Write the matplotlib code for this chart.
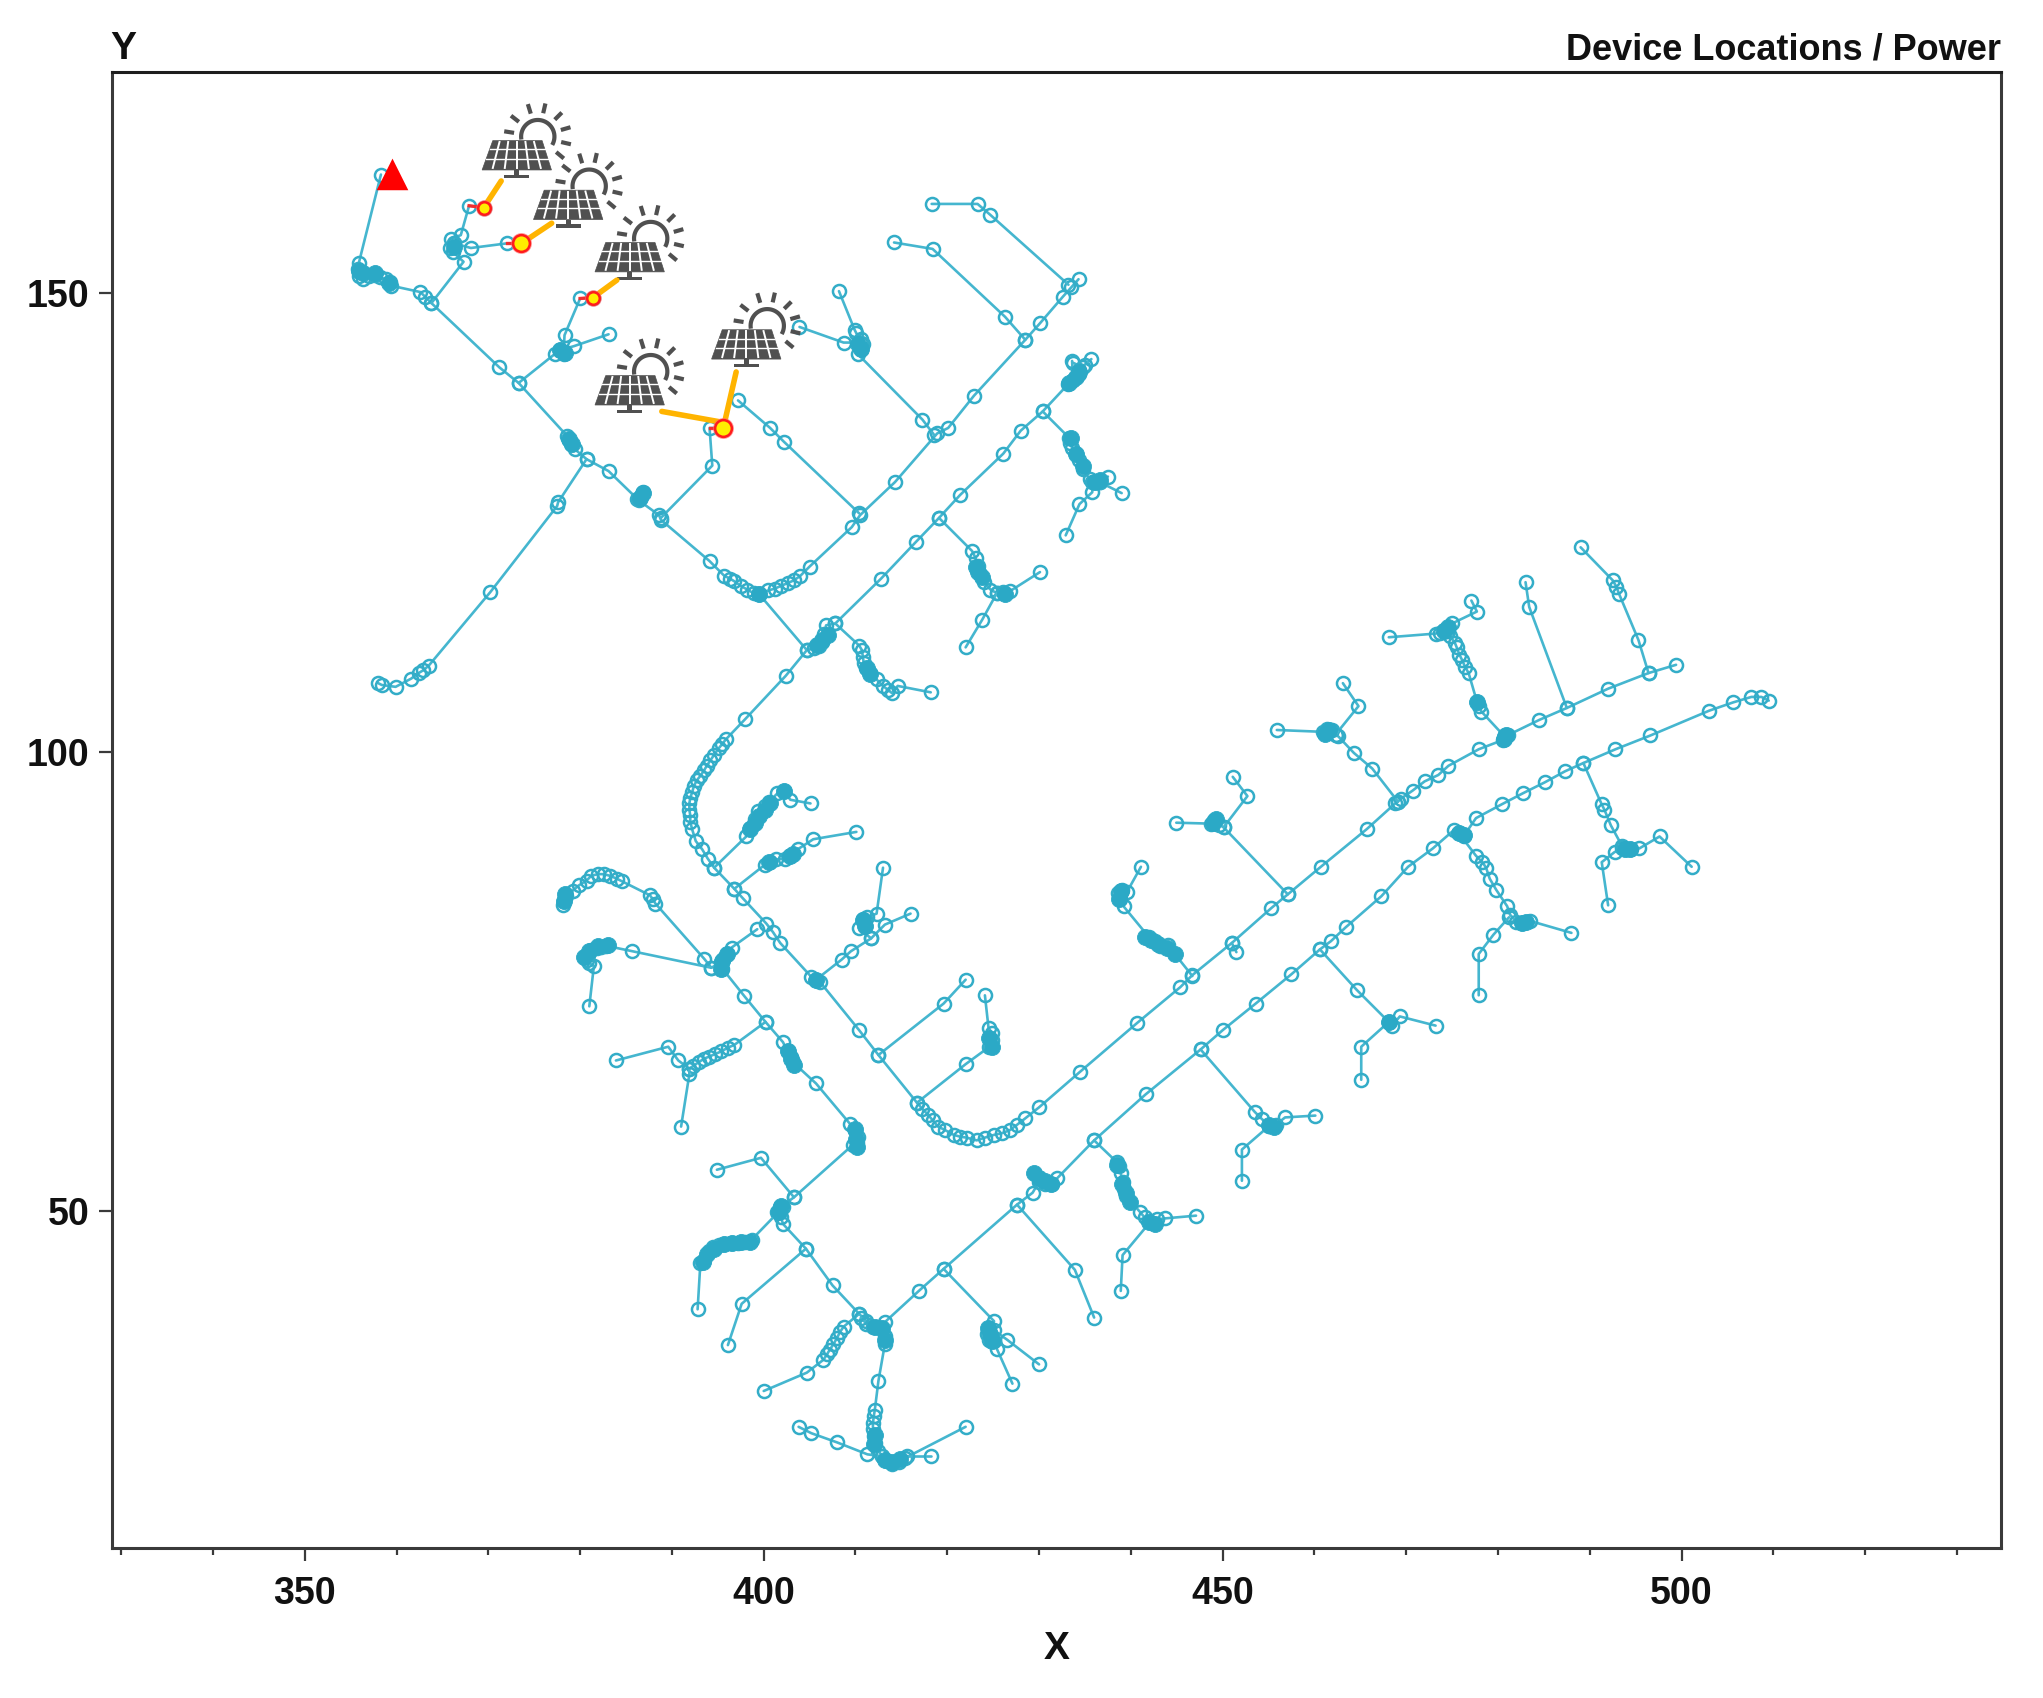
import numpy as np
import matplotlib
matplotlib.use("Agg")
import matplotlib.pyplot as plt
from matplotlib.patches import Polygon

XTICKS = [350, 400, 450, 500]
XMINOR = [330, 340, 360, 370, 380, 390, 410, 420, 430, 440, 460, 470, 480, 490, 510, 520, 530]
YTICKS = [50, 100, 150]

trunk_north = [(358.3,162.9),(355.9,153.3),(355.8,152.6),(355.9,151.9),(356.4,151.5),(357.0,151.9),(357.6,152.0),(358.2,151.7),(358.8,151.5),(359.3,151.2),(359.4,150.8),
 (362.6,150.1),(363.1,149.6),(363.8,148.9),(371.2,141.9),(373.3,140.2),(378.6,134.4),(378.8,134.0),(379.0,133.6),(379.4,133.0),(380.7,131.9),(383.1,130.6),
 (386.2,127.6),(386.6,127.9),(386.8,128.3),(386.4,127.4),(388.6,125.8),(388.8,125.3),(394.1,120.8),(395.7,119.2),(396.3,118.9),(396.8,118.6),(397.5,118.1),(398.2,117.7),(398.9,117.3),(399.5,117.2),
 (400.5,117.6),(401.2,117.8),(401.9,118.1),(402.6,118.4),(403.3,118.7),(404.0,119.2),(405.0,120.2),(409.6,124.5),(410.5,125.8),(414.3,129.4),(418.9,134.7),(420.1,135.3),(422.9,138.8),(428.5,144.9),(430.1,146.7),(432.6,149.6),(433.5,150.6),(434.3,151.5)]
link_arc_to_trunk = [(399.5,117.2),(404.7,111.1)]
trunk_mid = [(433.7,142.4),(434.8,141.9),(434.3,141.2),(433.7,140.5),(433.2,140.1),(430.4,137.1),(428.0,135.0),(426.1,132.5),(421.4,128.0),(419.1,125.5),(416.6,122.9),(412.8,118.9),(407.8,114.0),(406.8,113.8),
 (406.6,112.9),(406.4,112.0),(406.0,111.5),(405.5,111.3),(404.7,111.1),(402.4,108.3),(398.0,103.6),(395.9,101.4),(395.5,100.9),(395.1,100.4),(394.6,99.7),(394.2,99.1),(393.8,98.5),(393.5,98.0),(393.1,97.4),(392.7,96.9),(392.4,96.3),(392.2,95.6),(392.0,95.0),(391.9,94.4),(391.9,93.7),(392.0,93.1),(392.0,92.4),(392.2,91.6),(392.6,90.3),(393.3,89.4),(393.9,88.4),(394.6,87.4),(396.8,85.1),(397.7,84.1),(400.3,81.3),(401.0,80.4),(401.8,79.2),(405.2,75.5),(405.7,75.2),(406.1,75.0),
 (410.4,69.7),(412.5,67.0),(416.7,61.8),(417.3,61.1),(417.9,60.5),(418.4,59.9),(419.0,59.2),(419.8,58.8),(420.7,58.3),(421.4,58.1),(422.1,58.0),(423.2,57.7),(424.1,58.0),(425.1,58.3),(426.0,58.5),(426.8,58.8),(427.6,59.4),(428.5,60.1),(430.0,61.3),(434.5,65.2),(440.7,70.5),(445.4,74.4),(446.7,75.7),(451.0,79.2),(455.3,83.0),(457.1,84.5),(460.7,87.5),(465.7,91.6),(468.8,94.4),(469.1,94.6),(469.4,94.9),(470.7,95.8),(472.0,96.8),(473.5,97.5),(474.6,98.5),(477.9,100.3),(480.5,101.3),(480.8,101.6),(481.1,101.9),(481.0,101.8),(484.5,103.5),(487.5,104.8),(492.0,106.9),(496.4,108.6),(499.4,109.5)]
trunk_south = [(399.3,80.7),(396.5,78.7),(396.0,78.0),(395.6,77.5),(395.3,77.0),(395.5,76.4),(397.9,73.4),(400.2,70.6),(402.1,68.4),(402.6,67.4),(403.0,66.8),(403.2,66.2),(405.7,63.9),(409.4,59.5),(409.9,58.8),(410.3,58.1),(410.2,57.4),(409.7,57.2),(403.3,51.5),(401.8,50.4),(401.5,49.9),(401.9,49.3),(402.1,48.6),(404.6,45.9),(407.5,41.9),(410.4,38.8),(411.2,38.0),(413.2,37.9),(416.9,41.3),(419.6,43.7),(427.6,50.7),(429.3,52.0),(430.0,53.2),(430.7,53.0),(431.4,52.9),(432.0,53.6),(436.0,57.7),(441.6,62.7),(447.6,67.6),(450.0,69.7),(453.6,72.6),(457.5,75.8),(460.6,78.5),(461.8,79.4),(463.4,80.9),(467.3,84.3),(470.2,87.5),(472.9,89.5),(475.2,91.5),(475.7,91.2),(476.3,90.9),(477.6,92.8),(480.4,94.3),(482.7,95.5),(485.1,96.7),(487.3,97.9),(489.3,98.8),(492.8,100.3),(496.6,101.8),(503.0,104.5),(505.6,105.4),(507.6,106.0),(508.7,106.0),(509.5,105.6)]

north_branches = [
 [(363.8,148.9),(367.3,153.4),(366.1,154.5),(365.8,154.9),(366.3,155.4),(365.9,155.9),(367.0,156.3),(367.9,159.5),(369.5,159.3)],
 [(366.3,155.4),(368.1,154.9),(372.0,155.4),(373.6,155.4)],
 [(373.3,140.2),(377.3,143.4),(377.8,143.8),(378.2,143.4),(378.3,145.4),(380.0,149.4),(381.4,149.5)],
 [(377.8,143.8),(379.3,144.2),(383.1,145.5)],
 [(388.8,125.5),(394.4,131.2),(394.1,135.3),(395.5,135.3)],
 [(380.7,131.9),(377.6,127.2),(377.5,126.8),(370.2,117.4),(363.5,109.4),(362.9,108.9),(362.4,108.6),(361.6,108.0),(359.9,107.1),(358.4,107.3),(358.0,107.5)],
 [(410.4,126.0),(402.2,133.8),(400.7,135.3),(397.2,138.3)],
 [(418.6,134.5),(417.3,136.2),(410.3,143.3),(410.6,143.9),(410.8,144.4),(410.6,145.0),(410.1,145.6),(409.9,146.0),(408.2,150.2)],
 [(410.6,144.6),(408.7,144.6),(403.9,146.3)],
 [(428.5,144.9),(426.3,147.4),(418.4,154.8),(414.2,155.5)],
 [(433.2,150.9),(424.7,158.5),(423.3,159.7),(418.3,159.7)],
 [(433.7,140.5),(433.6,142.6)],
 [(434.3,141.6),(435.0,142.2),(435.7,142.8)],
 [(430.4,137.1),(433.3,134.2),(433.4,133.7),(433.6,133.1),(434.0,132.5),(434.3,131.8),(434.8,130.8),(435.5,129.7),(436.0,129.4),(436.6,129.4),(437.5,130.0)],
 [(436.6,129.4),(439.0,128.2)],
 [(435.8,129.4),(435.8,128.3),(434.4,127.0),(432.9,123.6)],
 [(419.1,125.5),(422.7,121.9),(423.1,121.1),(423.3,120.3),(423.6,119.4),(424.0,118.5),(424.7,117.7),(425.4,117.3),(426.1,117.4),(426.8,117.5),(430.1,119.6)],
 [(425.4,117.3),(423.8,114.4),(422.0,111.4)],
 [(407.8,114.0),(410.4,111.6),(410.7,111.1),(410.8,110.4),(410.9,109.7),(411.2,109.2),(411.6,108.6),(412.3,107.9),(413.0,107.2),(413.5,106.8),(414.0,106.4),(414.6,107.2),(418.2,106.5)],
]
mid_branches = [
 [(394.6,87.4),(398.1,90.8),(398.5,91.7),(399.0,92.7),(399.4,93.6),(400.1,94.1),(400.6,94.6),(401.5,95.5),(402.2,95.8),(402.9,94.8),(405.1,94.4)],
 [(396.8,85.1),(400.1,87.7),(400.7,88.0),(401.3,88.3),(402.3,88.4),(402.9,88.7),(403.7,89.4),(405.4,90.5),(410.1,91.3)],
 [(405.7,75.2),(408.5,77.4),(409.5,78.3),(411.7,79.7),(410.4,80.8),(411.0,81.1),(410.8,81.8),(411.3,82.0),(412.3,82.4),(413.0,87.4)],
 [(411.7,79.7),(413.2,81.2),(416.0,82.4)],
 [(412.5,67.0),(419.6,72.6),(422.0,75.2)],
 [(416.7,61.8),(422.0,66.0),(424.6,67.9),(424.9,68.6),(424.9,69.4),(424.5,69.9),(424.1,73.5)],
 [(446.7,75.6),(444.0,79.0),(443.2,78.9),(442.6,79.4),(442.0,79.8),(439.2,83.2),(438.8,84.0),(438.6,84.6),(439.0,85.0),(439.6,84.8),(441.1,87.5)],
 [(457.1,84.5),(450.1,91.8),(449.6,92.1),(449.1,92.6),(448.7,92.2),(444.95,92.3)],
 [(450.1,91.8),(452.7,95.2),(451.1,97.3)],
 [(469.1,94.6),(466.3,98.2),(464.3,99.9),(462.6,101.7),(462.3,101.9),(461.9,102.4),(461.4,102.5),(460.9,102.2),(455.9,102.4)],
 [(462.3,101.9),(464.8,105.0),(463.1,107.5)],
 [(480.8,101.6),(478.2,104.4),(477.9,105.0),(477.7,105.5),(476.8,108.6),(476.4,109.3),(476.1,110.0),(475.8,110.6),(475.5,111.4),(475.3,111.9),(474.8,112.6),(474.1,113.3),(473.7,113.0),(473.2,112.9),(468.1,112.5)],
 [(474.6,113.2),(475.0,114.0),(477.7,115.3),(477.1,116.5)],
 [(487.5,104.8),(483.4,115.8),(483.0,118.5)],
 [(496.4,108.6),(495.3,112.2),(493.2,117.2),(492.9,118.0),(492.5,118.7),(489.0,122.3)],
 [(451.0,79.2),(451.5,78.2)],
]
south_branches = [
 [(395.5,77.2),(394.3,76.5),(393.5,77.5),(388.2,83.5),(387.9,84.0),(387.6,84.4),(384.6,85.9),(384.0,86.2),(383.3,86.5),(382.6,86.7),(381.9,86.7),(381.2,86.5),(380.7,86.0),(379.9,85.5),(379.2,84.9),(378.5,84.3),(378.2,83.8),(378.1,83.3)],
 [(394.3,76.5),(385.7,78.3),(382.8,78.9),(382.3,78.8),(381.8,78.7),(381.2,78.4),(380.9,77.9),(380.7,77.4),(381.0,77.0),(381.5,76.7),(381.0,72.3)],
 [(400.2,70.6),(396.8,68.1),(396.1,67.8),(395.4,67.4),(394.7,67.1),(394.0,66.8),(393.5,66.6),(392.9,66.2),(392.3,65.8),(391.9,65.5),(390.7,66.4),(389.6,67.9),(383.9,66.4)],
 [(391.9,65.5),(391.9,64.9),(391.0,59.2)],
 [(403.3,51.5),(399.7,55.8),(394.9,54.5)],
 [(402.1,50.4),(398.7,46.9),(398.0,46.6),(397.2,46.5),(396.4,46.5),(395.7,46.4),(395.1,46.3),(394.5,46.1),(394.0,45.6),(393.5,44.7),(393.1,44.3),(392.8,39.3)],
 [(404.6,45.9),(397.6,39.9),(396.1,35.4)],
 [(410.4,38.8),(408.7,37.4),(408.3,36.8),(408.0,36.2),(407.6,35.5),(407.2,34.9),(406.9,34.4),(406.5,33.8),(404.7,32.4),(400.0,30.4)],
 [(410.6,38.4),(411.2,37.7),(411.9,37.4),(412.9,37.2),(413.2,36.4),(413.2,35.5),(412.5,31.5),(412.1,28.3),(412.0,27.7),(411.9,26.9),(411.9,26.3),(412.0,25.5),(412.1,24.7),(412.5,23.9),(412.9,23.3),(413.4,22.8),(414.0,22.5),(414.7,22.7),(415.4,23.1),(422.0,26.5)],
 [(415.6,23.3),(418.2,23.3)],
 [(412.9,23.3),(411.3,23.5),(408.0,24.8),(405.2,25.8),(403.8,26.5)],
 [(419.6,43.7),(425.1,38.0),(424.6,37.3),(424.3,36.6),(424.6,36.0),(425.1,35.9),(425.4,35.0),(427.1,31.2)],
 [(425.1,37.0),(426.5,36.0),(430.0,33.3)],
 [(427.6,50.7),(433.9,43.6),(436.0,38.4)],
 [(436.0,57.7),(438.5,55.3),(438.7,54.9),(438.9,54.1),(439.1,53.2),(439.3,52.4),(439.5,51.6),(441.0,49.9),(441.5,49.3),(442.1,48.8),(442.9,49.1),(443.7,49.2),(447.1,49.5)],
 [(442.1,48.8),(439.1,45.2),(438.9,41.3)],
 [(447.6,67.6),(453.5,60.8),(454.3,60.0),(455.1,59.3),(455.8,59.4),(456.8,60.2),(460.1,60.4)],
 [(455.1,59.3),(452.1,56.7),(452.1,53.3)],
 [(460.6,78.5),(464.6,74.1),(468.1,70.6),(468.5,70.2),(469.3,71.2),(473.2,70.2)],
 [(468.1,70.6),(465.1,67.9),(465.1,64.3)],
 [(475.7,91.2),(477.6,88.7),(478.3,88.0),(478.7,87.4),(479.1,86.2),(479.8,85.0),(481.0,83.2),(481.3,82.3),(482.0,81.5),(482.6,81.4),(483.5,81.6),(488.0,80.3)],
 [(481.2,82.0),(479.5,80.1),(477.9,78.0),(477.9,73.5)],
 [(489.3,98.8),(491.3,94.3),(491.6,93.7),(492.3,92.0),(493.5,89.8),(494.0,89.4),(494.5,89.4),(495.4,89.5),(497.6,90.8),(501.1,87.5)],
 [(493.5,89.5),(492.7,89.1),(491.3,88.0),(492.0,83.3)],
]

# nodes so close together that they print as a solid blob
dense_x = [378.2,378.3,380.4,381.0,382.0,383.0,395.5,396.0,395.3,405.7,411.0,410.8,402.6,403.0,403.3,409.9,410.1,410.2,
 401.7,401.9,395.7,396.5,397.5,398.5,393.8,394.6,393.4,412.1,412.9,413.2,414.0,413.2,414.8,412.0,412.1,424.7,424.4,424.9,
 430.7,431.3,430.0,429.4,438.5,439.0,439.5,439.9,442.0,442.6,455.1,455.6,438.7,438.9,441.5,442.2,443.0,443.9,444.8,424.6,424.9,
 449.3,449.0,398.5,399.0,399.5,400.1,400.7,402.2,402.9,403.2,400.6,
 461.6,461.2,480.9,480.6,475.7,476.3,482.6,483.1,493.8,494.4,468.1,
 356.4,357.7,359.2,355.9,377.8,378.4,378.8,379.1,386.5,386.8,406.4,405.8,407.0,399.5,410.3,410.6,411.3,411.6,423.1,423.8,423.4,
 366.3,433.3,434.4,434.0,434.0,433.5,434.8,436.6,436.1,474.1,474.6,480.8,477.7,426.3]
dense_y = [83.8,84.5,77.7,78.3,78.9,79.0,77.2,78.0,76.4,75.2,81.0,81.7,67.4,66.6,65.9,58.9,57.9,57.0,
 49.9,50.6,46.4,46.5,46.6,46.6,45.3,45.9,44.4,37.4,37.3,36.0,22.7,22.9,23.0,24.6,25.6,36.6,37.3,35.9,
 53.3,53.0,53.6,54.1,55.0,53.0,52.0,51.0,48.8,48.6,59.4,59.2,84.0,84.9,79.9,79.5,79.1,78.6,78.0,68.8,67.9,
 92.7,92.3,91.6,92.3,93.0,93.7,94.4,95.8,88.7,88.9,88.0,
 102.4,102.0,101.8,101.4,91.2,91.0,81.4,81.5,89.4,89.4,70.6,
 152.2,152.2,151.1,152.4,143.8,143.5,134.1,133.5,127.7,128.2,112.2,111.7,112.8,117.2,144.4,143.9,109.1,108.5,120.2,119.1,119.6,
 155.0,140.2,141.4,140.9,132.5,134.2,131.1,129.6,129.4,113.2,113.6,101.7,105.4,117.2]

source_marker = [(359.5, 162.9)]
pv_nodes = [(369.5,159.3),(373.6,155.4),(381.4,149.5),(395.6,135.3)]
pv_node_sizes = [9, 12, 9, 12]
pv_icons = [(373.1,163.4),(378.7,158.0),(385.4,152.3),(398.1,142.8),(385.4,137.8)]
pv_link_x = [[371.4,369.5],[376.9,373.6],[384.0,381.4],[397.0,395.6],[388.9,395.6]]
pv_link_y = [[162.2,159.3],[157.6,155.4],[151.4,149.5],[141.4,135.3],[137.1,135.9]]
pv_stub_x = [[367.9,369.5],[372.0,373.6],[380.0,381.4],[394.1,395.6]]
pv_stub_y = [[159.5,159.3],[155.4,155.4],[149.4,149.5],[135.3,135.3]]

W, H = 2043, 1698
CYAN = "#2BA9C6"
plt.rcParams["font.family"] = ["Liberation Sans", "DejaVu Sans"]
plt.rcParams["font.weight"] = "bold"

fig = plt.figure(figsize=(W / 100, H / 100), dpi=100, facecolor="white")
ax = fig.add_axes([112 / W, 1 - 1548 / H, (2001 - 112) / W, (1548 - 72) / H])
ax.set_xlim(329.0, 534.8)
ax.set_ylim(13.3, 174.07)


def draw(pts, lw=1.9):
    a = np.array(pts)
    ax.plot(a[:, 0], a[:, 1], color="#45B6CF", lw=lw, marker="o", ms=9.4, mfc="none",
            mec="#33ADC8", mew=1.8, solid_capstyle="round", zorder=2)


for p in [trunk_north, link_arc_to_trunk, trunk_mid, trunk_south]:
    draw(p)
for p in north_branches + mid_branches + south_branches:
    draw(p)
ax.plot(dense_x, dense_y, "o", ms=11.5, mfc=CYAN, mec=CYAN, mew=0.6, ls="none", zorder=3)


def pv_icon(cx, cy):
    """Solar-panel pictogram; offsets are in data units around the panel's base centre."""
    k = 1 / 27.54
    col = "#505050"

    def P(dx, dy):
        return cx + dx * k, cy - dy * k

    ax.add_patch(Polygon([P(-72, -88), P(76, -88), P(104, 0), P(-104, 0)], fc=col, ec=col, lw=0.5, zorder=4))
    for f in [0.30, 0.62]:
        y = -88 * (1 - f)
        half_l = 72 + 32 * f
        half_r = 76 + 28 * f
        xs, ys = zip(P(-half_l, y), P(half_r, y))
        ax.plot(xs, ys, color="white", lw=1.0, zorder=5)
    for t in [-0.72, -0.36, 0.0, 0.36, 0.72]:
        xs, ys = zip(P(t * 72, -84), P(t * 100, -6))
        ax.plot(xs, ys, color="white", lw=1.4, zorder=5)
    ax.add_patch(Polygon([P(-8, 0), P(8, 0), P(8, 14), P(38, 14), P(38, 25), P(-38, 25), P(-38, 14), P(-8, 14)],
                         fc=col, ec="none", zorder=4))
    sx, sy = 63, -100
    th = np.radians(np.linspace(-30, 190, 40))
    xs, ys = P(sx + 50 * np.cos(th), sy - 50 * np.sin(th))
    ax.plot(xs, ys, color=col, lw=3.0, solid_capstyle="butt", zorder=4)
    for deg in [171, 142, 107, 77, 45, 16, -13, -40]:
        a = np.radians(deg)
        xs, ys = zip(P(sx + 72 * np.cos(a), sy - 72 * np.sin(a)), P(sx + 102 * np.cos(a), sy - 102 * np.sin(a)))
        ax.plot(xs, ys, color=col, lw=3.0, solid_capstyle="butt", zorder=4)


for cx, cy in pv_icons:
    pv_icon(cx, cy)
for x, y in zip(pv_stub_x, pv_stub_y):
    ax.plot(x, y, color="#FF2020", lw=2.4, alpha=0.9, zorder=5)
for x, y in zip(pv_link_x, pv_link_y):
    ax.plot(x, y, color="#FFB400", lw=4.0, solid_capstyle="round", zorder=6)
for (x, y), s in zip(pv_nodes, pv_node_sizes):
    ax.plot([x], [y], "o", ms=s + 3, mfc="#FF6A6A", mec="none", alpha=0.7, zorder=6.5)
    ax.plot([x], [y], "o", ms=s, mfc="#FFEE00", mec="#FF1C1C", mew=1.8, zorder=7)
ax.plot(*zip(*source_marker), "^", ms=19, mfc="#FF0000", mec="#FF0000", mew=2.5, zorder=8)

for s in ax.spines.values():
    s.set_linewidth(2.2)
    s.set_color("#3A3A3A")
ax.spines["top"].set_color("#1E1E1E")
ax.set_xticks(XTICKS)
ax.set_xticks(XMINOR, minor=True)
ax.set_yticks(YTICKS)
ax.tick_params(axis="x", which="major", length=9.5, width=1.6, color="#3A3A3A", labelsize=27, pad=11, labelcolor="#111111")
ax.tick_params(axis="y", which="major", length=9.5, width=1.6, color="#3A3A3A", labelsize=27, pad=7, labelcolor="#111111")
ax.tick_params(axis="x", which="minor", length=5, width=1.6, color="#3A3A3A")
ax.set_xlabel("X", fontsize=28, fontweight="bold", color="#111111", labelpad=13)
ax.text(-0.001, 1.0085, "Y", transform=ax.transAxes, ha="left", va="baseline", fontsize=28, fontweight="bold", color="#111111")
ax.text(1.0, 1.0085, "Device Locations / Power", transform=ax.transAxes, ha="right", va="baseline", fontsize=26, fontweight="bold", color="#111111")

fig.savefig("out.png", dpi=100, facecolor="white")
